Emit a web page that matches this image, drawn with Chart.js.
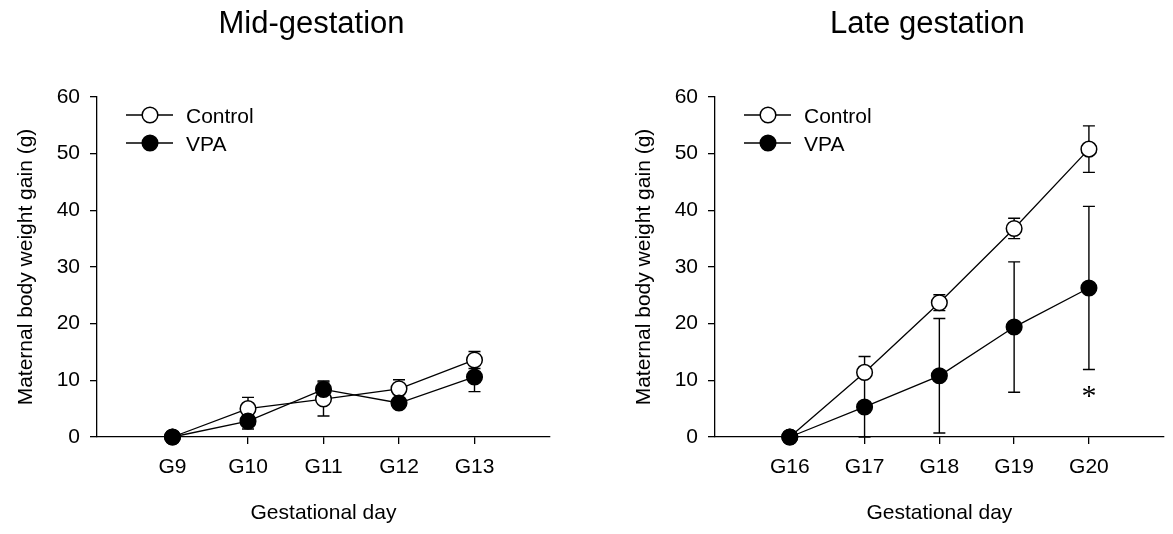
<!DOCTYPE html>
<html>
<head>
<meta charset="utf-8">
<title>Maternal body weight gain</title>
<script src="https://cdn.jsdelivr.net/npm/chart.js@4.4.0/dist/chart.umd.min.js"></script>
<style>
  html, body { margin: 0; padding: 0; background: #fff; }
  #wrap { position: relative; width: 1173px; height: 534px; overflow: hidden; }
  canvas { position: absolute; top: 0; }
</style>
</head>
<body>
<div id="wrap">
  <canvas id="midChart" width="586" height="534" style="left:0"></canvas>
  <canvas id="lateChart" width="555" height="534" style="left:618px"></canvas>
</div>
<script>
// ---- mid-gestation (G9 - G13) ----
const midDays = [9, 10, 11, 12, 13];
const midControl = [0, 5.0, 6.7, 8.5, 13.6];
const midControlErr = [0, 2.0, 3.0, 1.6, 1.5];
const midVpa = [0, 2.8, 8.4, 6.0, 10.6];
const midVpaErr = [0, 1.4, 1.5, 0.8, 2.6];

// ---- late gestation (G16 - G20) ----
const lateDays = [16, 17, 18, 19, 20];
const lateControl = [0, 11.4, 23.7, 36.8, 50.8];
const lateControlErrUp = [0, 2.8, 1.4, 1.8, 4.1];
const lateControlErrDown = [0, 0, 1.4, 1.8, 4.1];
const lateVpa = [0, 5.3, 10.8, 19.4, 26.3];
const lateVpaErr = [0, 5.3, 10.1, 11.5, 14.4];
const lateVpaMarks = ['', '', '', '', '*'];

const yTicks = [0, 10, 20, 30, 40, 50, 60];
const seriesNames = ['Control', 'VPA'];

const FONT = "Arial, 'Liberation Sans', sans-serif";
Chart.defaults.font.family = FONT;
Chart.defaults.color = '#000';

const toPoints = (xs, ys) => xs.map((x, i) => ({ x, y: ys[i] }));

// error bars go under the markers
const errorBars = {
  id: 'errorBars',
  beforeDatasetsDraw(chart) {
    const { ctx, scales: { x, y } } = chart;
    ctx.save();
    ctx.strokeStyle = '#000';
    ctx.lineWidth = 1.4;
    chart.data.datasets.forEach(ds => {
      ds.data.forEach((p, i) => {
        const plus = ds.errPlus[i], minus = ds.errMinus[i];
        if (!plus && !minus) return;
        const px = x.getPixelForValue(p.x);
        const top = y.getPixelForValue(p.y + plus);
        const bot = y.getPixelForValue(p.y - minus);
        ctx.beginPath();
        ctx.moveTo(px, top);
        ctx.lineTo(px, bot);
        if (plus) { ctx.moveTo(px - 6, top); ctx.lineTo(px + 6, top); }
        if (minus) { ctx.moveTo(px - 6, bot); ctx.lineTo(px + 6, bot); }
        ctx.stroke();
      });
    });
    ctx.restore();
  }
};

// panel title, legend and significance marks
const panelDecor = {
  id: 'panelDecor',
  afterDraw(chart, args, opts) {
    const { ctx, chartArea: area, scales: { x, y } } = chart;
    ctx.save();
    ctx.fillStyle = '#000';
    ctx.textBaseline = 'alphabetic';

    ctx.font = '31px ' + FONT;
    ctx.textAlign = 'center';
    ctx.fillText(opts.title, (area.left + area.right) / 2 - 12, 33);

    // legend: line - marker - line, then label
    ctx.font = '21px ' + FONT;
    ctx.textAlign = 'left';
    seriesNames.forEach((name, i) => {
      const ly = 115 + i * 28;
      const lx = area.left + 29;
      ctx.strokeStyle = '#000';
      ctx.lineWidth = 1.3;
      ctx.beginPath();
      ctx.moveTo(lx, ly);
      ctx.lineTo(lx + 47, ly);
      ctx.stroke();
      ctx.beginPath();
      ctx.arc(lx + 24, ly, 7.8, 0, Math.PI * 2);
      ctx.fillStyle = i === 0 ? '#fff' : '#000';
      ctx.fill();
      ctx.lineWidth = 1.5;
      ctx.stroke();
      ctx.fillStyle = '#000';
      ctx.fillText(name, lx + 60, ly + 7.5);
    });

    // asterisks under the lower error cap
    chart.data.datasets.forEach(ds => {
      if (!ds.marks) return;
      ds.marks.forEach((m, i) => {
        if (!m) return;
        const p = ds.data[i];
        const px = x.getPixelForValue(p.x);
        const py = y.getPixelForValue(p.y - ds.errMinus[i]);
        ctx.font = "30px 'Liberation Serif', 'Times New Roman', serif";
        ctx.textAlign = 'center';
        ctx.fillText(m, px, py + 35);
      });
    });
    ctx.restore();
  }
};

function panelScales(xMin, xMax) {
  return {
    x: {
      type: 'linear',
      min: xMin,
      max: xMax,
      afterBuildTicks: s => { s.ticks = s.ticks.filter(t => t.value > xMin && t.value < xMax); },
      afterFit: s => { s.height = 97; },
      ticks: { stepSize: 1, padding: 11, font: { size: 21 }, color: '#000', callback: v => 'G' + v },
      grid: { drawOnChartArea: false, drawTicks: true, tickLength: 7, color: '#000', lineWidth: 1.3 },
      border: { display: true, color: '#000', width: 1.3 },
      title: { display: true, text: 'Gestational day', font: { size: 21 }, color: '#000', padding: { top: 0, bottom: 8 } }
    },
    y: {
      min: yTicks[0],
      max: yTicks[yTicks.length - 1],
      afterBuildTicks: s => { s.ticks = yTicks.map(v => ({ value: v })); },
      afterFit: s => { s.width = 97; },
      ticks: { padding: 10, font: { size: 21 }, color: '#000' },
      grid: { drawOnChartArea: false, drawTicks: true, tickLength: 7, color: '#000', lineWidth: 1.3 },
      border: { display: true, color: '#000', width: 1.3 },
      title: { display: true, text: 'Maternal body weight gain (g)', font: { size: 21 }, color: '#000', padding: { top: 14, bottom: 0 } }
    }
  };
}

function series(label, xs, ys, plus, minus, filled, order) {
  return {
    label,
    data: toPoints(xs, ys),
    errPlus: plus,
    errMinus: minus,
    order,
    clip: false,
    borderColor: '#000',
    borderWidth: 1.3,
    pointRadius: 7.8,
    pointBorderWidth: 1.5,
    pointBackgroundColor: filled ? '#000' : '#fff',
    pointBorderColor: '#000',
    fill: false,
    tension: 0
  };
}

function makePanel(canvasId, title, xMin, xMax, datasets, padRight) {
  const ctx = document.getElementById(canvasId).getContext('2d');
  return new Chart(ctx, {
    type: 'line',
    data: { datasets },
    options: {
      responsive: false,
      animation: false,
      devicePixelRatio: 1,
      layout: { padding: { top: 97, right: padRight, bottom: 0, left: 0 } },
      scales: panelScales(xMin, xMax),
      plugins: {
        legend: { display: false },
        tooltip: { enabled: false },
        panelDecor: { title }
      }
    },
    plugins: [errorBars, panelDecor]
  });
}

makePanel('midChart', 'Mid-gestation', 8, 14, [
  series(seriesNames[0], midDays, midControl, midControlErr, midControlErr, false, 1),
  series(seriesNames[1], midDays, midVpa, midVpaErr, midVpaErr, true, 0)
], 36);

const lateVpaSet = series(seriesNames[1], lateDays, lateVpa, lateVpaErr, lateVpaErr, true, 0);
lateVpaSet.marks = lateVpaMarks;
makePanel('lateChart', 'Late gestation', 15, 21, [
  series(seriesNames[0], lateDays, lateControl, lateControlErrUp, lateControlErrDown, false, 1),
  lateVpaSet
], 5);
</script>
</body>
</html>
